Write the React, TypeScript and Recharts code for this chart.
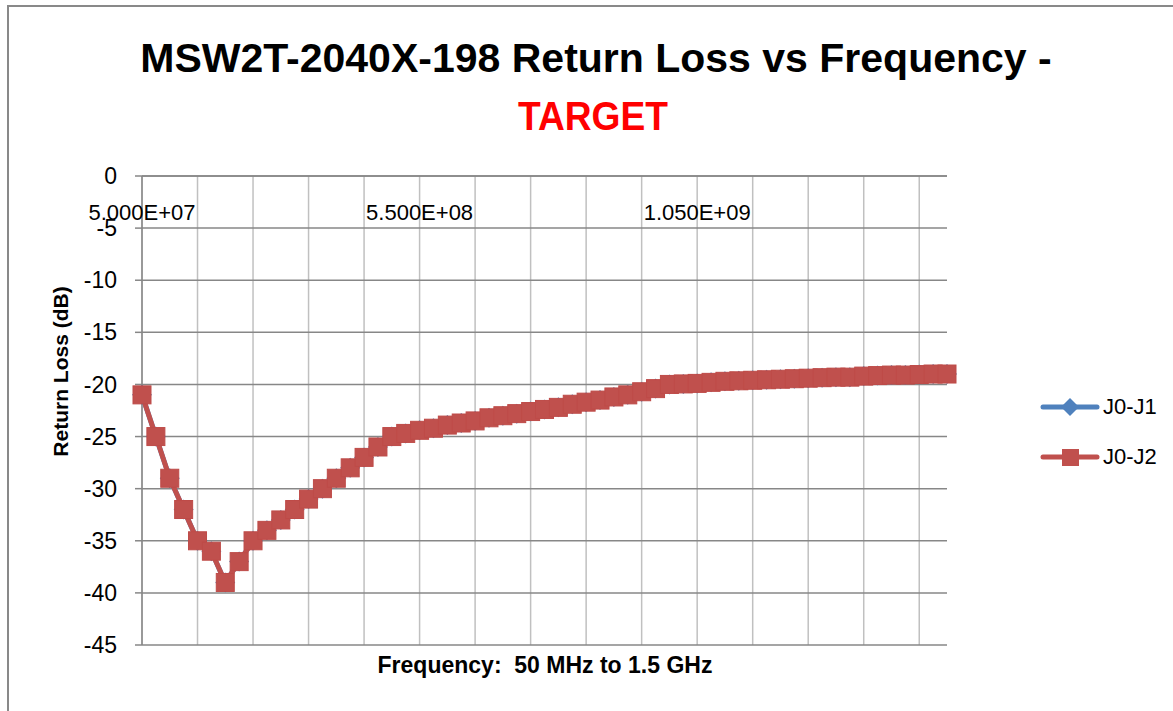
import React from 'react';
import { LineChart, Line, XAxis, YAxis, ReferenceLine } from 'recharts';

// Frequency categories in MHz (50 MHz to 1.5 GHz, 25 MHz steps)
const frequencies = [
  50, 75, 100, 125, 150, 175, 200, 225, 250, 275,
  300, 325, 350, 375, 400, 425, 450, 475, 500, 525,
  550, 575, 600, 625, 650, 675, 700, 725, 750, 775,
  800, 825, 850, 875, 900, 925, 950, 975, 1000, 1025,
  1050, 1075, 1100, 1125, 1150, 1175, 1200, 1225, 1250, 1275,
  1300, 1325, 1350, 1375, 1400, 1425, 1450, 1475, 1500,
];

// Return loss (dB) J0-J1 (hidden beneath J0-J2 in the reference)
const j0j1 = [
  -21, -25, -29, -32, -35, -36, -39, -37, -35, -34,
  -33, -32, -31, -30, -29, -28, -27, -26, -25, -24.7,
  -24.4, -24.2, -23.9, -23.7, -23.5, -23.2, -23.0, -22.8, -22.6, -22.4,
  -22.2, -21.9, -21.7, -21.5, -21.2, -21.0, -20.7, -20.4, -20.0, -19.95,
  -19.9, -19.8, -19.7, -19.65, -19.6, -19.55, -19.5, -19.45, -19.4, -19.35,
  -19.3, -19.3, -19.2, -19.15, -19.1, -19.1, -19.05, -19.0, -19.0,
];

// Return loss (dB) J0-J2
const j0j2 = [
  -21, -25, -29, -32, -35, -36, -39, -37, -35, -34,
  -33, -32, -31, -30, -29, -28, -27, -26, -25, -24.7,
  -24.4, -24.2, -23.9, -23.7, -23.5, -23.2, -23.0, -22.8, -22.6, -22.4,
  -22.2, -21.9, -21.7, -21.5, -21.2, -21.0, -20.7, -20.4, -20.0, -19.95,
  -19.9, -19.8, -19.7, -19.65, -19.6, -19.55, -19.5, -19.45, -19.4, -19.35,
  -19.3, -19.3, -19.2, -19.15, -19.1, -19.1, -19.05, -19.0, -19.0,
];

const seriesNames = ['J0-J1', 'J0-J2'];
const seriesColors = ['#4F81BD', '#C0504D'];

const yTicks = [0, -5, -10, -15, -20, -25, -30, -35, -40, -45];

// category tick labels (shown every 20 categories)
const xTickFreqs = [50, 550, 1050];
const xTickLabels = ['5.000E+07', '5.500E+08', '1.050E+09'];

// categories that carry a vertical gridline (every 4th category)
const xGridFreqs = [50, 150, 250, 350, 450, 550, 650, 750, 850, 950, 1050, 1150, 1250, 1350, 1450];

const titleLine1 = 'MSW2T-2040X-198 Return Loss vs Frequency -';
const titleLine2 = 'TARGET';
const xTitle = 'Frequency:  50 MHz to 1.5 GHz';
const yTitle = 'Return Loss (dB)';

const data = frequencies.map((f, i) => ({ freq: f, j1: j0j1[i], j2: j0j2[i] }));

const FONT = '"Liberation Sans", Arial, sans-serif';

const XTick = (props: any) => {
  const { x, y, payload } = props;
  const idx = xTickFreqs.indexOf(payload.value);
  if (idx < 0) return <g />;
  return (
    <text x={x} y={y + 44} textAnchor="middle" fontSize={22} fontFamily={FONT} fill="#000">
      {xTickLabels[idx]}
    </text>
  );
};

const SquareDot = (props: any) => {
  const { cx, cy, index } = props;
  if (cx == null || cy == null) return null;
  return <rect key={`sq-${index}`} x={cx - 9} y={cy - 9} width={18} height={18} fill="#C0504D" stroke="#BE4B48" strokeWidth={1} />;
};

const DiamondDot = (props: any) => {
  const { cx, cy, index } = props;
  if (cx == null || cy == null) return null;
  return (
    <path
      key={`dm-${index}`}
      d={`M${cx},${cy - 10} L${cx + 10},${cy} L${cx},${cy + 10} L${cx - 10},${cy} Z`}
      fill="#4F81BD"
    />
  );
};

const ChartLegend = () => (
  <div style={{ position: 'absolute', left: 1040, top: 382, width: 130, fontFamily: FONT, fontSize: 22, color: '#000' }}>
    {seriesNames.map((name, i) => (
      <div key={name} style={{ display: 'flex', alignItems: 'center', height: 50 }}>
        <svg width={60} height={24} style={{ marginRight: 3 }}>
          <line x1={3} y1={12} x2={57} y2={12} stroke={seriesColors[i]} strokeWidth={5} strokeLinecap="round" />
          {i === 0 ? (
            <path d="M30,3 L39,12 L30,21 L21,12 Z" fill={seriesColors[i]} />
          ) : (
            <rect x={22} y={4} width={17} height={17} fill={seriesColors[i]} />
          )}
        </svg>
        <span>{name}</span>
      </div>
    ))}
  </div>
);

const YLabel = (props: any) => {
  const vb = props.viewBox || {};
  const cx = 60;
  const cy = (vb.y ?? 176) + (vb.height ?? 468) / 2 - 39;
  return (
    <text
      x={cx}
      y={cy}
      transform={`rotate(-90, ${cx}, ${cy})`}
      textAnchor="middle"
      dominantBaseline="central"
      fontSize={21}
      fontWeight="bold"
      fontFamily={FONT}
      fill="#000"
    >
      {yTitle}
    </text>
  );
};

export default function App() {
  return (
    <div style={{ position: 'absolute', left: 0, top: 0, width: 1173, height: 711, overflow: 'hidden', background: '#fff' }}>
      <div
        style={{
          position: 'absolute',
          left: 7,
          top: 5,
          width: 1250,
          height: 800,
          border: '2px solid #898989',
        }}
      />
      <div style={{ position: 'absolute', left: 0, top: 0 }}>
        <LineChart
          width={1173}
          height={711}
          data={data}
          accessibilityLayer={false}
          margin={{ top: 156, right: 226, bottom: 66, left: 42 }}
        >
          {xGridFreqs.map((f) => (
            <ReferenceLine key={`vg-${f}`} x={f} stroke="#c0c0c0" strokeWidth={1.5} />
          ))}
          {yTicks.map((v) => (
            <ReferenceLine key={`hg-${v}`} y={v} stroke="#878787" strokeWidth={1.5} />
          ))}
          <XAxis
            dataKey="freq"
            type="category"
            orientation="top"
            height={20}
            interval={0}
            ticks={xGridFreqs}
            tickLine={false}
            tickSize={0}
            tickMargin={0}
            axisLine={{ stroke: '#878787', strokeWidth: 1.5 }}
            tick={<XTick />}
          />
          <YAxis
            type="number"
            domain={[-45, 0]}
            ticks={yTicks}
            width={100}
            tickSize={7}
            tickMargin={18}
            axisLine={{ stroke: '#878787', strokeWidth: 1.5 }}
            tickLine={{ stroke: '#878787', strokeWidth: 1.5 }}
            tick={{ fontSize: 23, fontFamily: FONT, fill: '#000' }}
            label={<YLabel />}
          />
          <Line
            type="linear"
            dataKey="j1"
            name={seriesNames[0]}
            stroke={seriesColors[0]}
            strokeWidth={5}
            strokeLinejoin="round"
            dot={DiamondDot}
            activeDot={false}
            isAnimationActive={false}
          />
          <Line
            type="linear"
            dataKey="j2"
            name={seriesNames[1]}
            stroke={seriesColors[1]}
            strokeWidth={5}
            strokeLinejoin="round"
            dot={SquareDot}
            activeDot={false}
            isAnimationActive={false}
          />
        </LineChart>
      </div>
      <ChartLegend />
      <svg
        width={1173}
        height={711}
        style={{ position: 'absolute', left: 0, top: 0, pointerEvents: 'none' }}
      >
        <text x={596} y={72} textAnchor="middle" fontSize={41} fontWeight="bold" fontFamily={FONT} fill="#000">
          {titleLine1}
        </text>
        <text
          x={593}
          y={130}
          textAnchor="middle"
          fontSize={40}
          fontWeight="bold"
          fontFamily={FONT}
          fill="#FF0000"
          textLength={150}
          lengthAdjust="spacingAndGlyphs"
        >
          {titleLine2}
        </text>
        <text
          x={545}
          y={673}
          textAnchor="middle"
          fontSize={23}
          fontWeight="bold"
          fontFamily={FONT}
          fill="#000"
          style={{ whiteSpace: 'pre' }}
        >
          {xTitle}
        </text>
      </svg>
    </div>
  );
}
